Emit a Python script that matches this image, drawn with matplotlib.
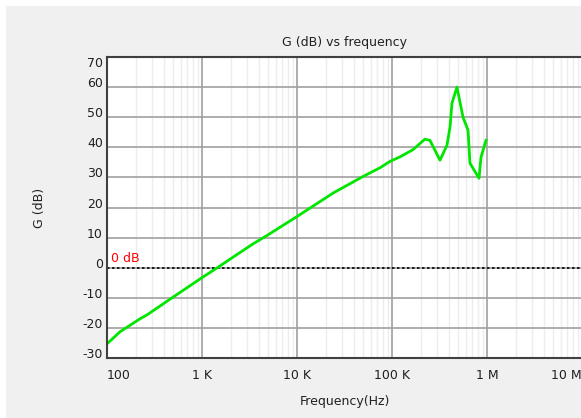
import matplotlib
matplotlib.use("Agg")
from matplotlib import pyplot as plt
from matplotlib.patches import Rectangle
from matplotlib.ticker import FixedLocator, NullFormatter

plt.rcParams["axes.unicode_minus"] = False

# gain curve
freq = [100, 137, 222, 263, 495, 1000, 1500, 2120, 3400, 4830, 10000,
        24000, 49500, 74800, 95000, 121000, 166000, 222000, 251000, 320000,
        379000, 408000, 428000, 483000, 559000, 631000, 662000, 824000,
        865000, 975000]
gain_db = [-25.3, -21.3, -17.0, -15.7, -9.8, -3.3, 0.3, 3.5, 7.8, 10.7, 17.0,
           24.8, 30.3, 33.2, 35.3, 36.8, 39.2, 42.7, 42.3, 35.7,
           40.7, 46.7, 54.7, 60.0, 50.0, 45.7, 34.7, 29.7,
           36.7, 42.3]

x_ticks = [100, 1e3, 1e4, 1e5, 1e6, 1e7]
x_labels = ["100", "1 K", "10 K", "100 K", "1 M", "10 M"]
y_ticks = [-30, -20, -10, 0, 10, 20, 30, 40, 50, 60, 70]

W, H = 581, 418
fig = plt.figure(figsize=(W / 100, H / 100), dpi=100)
fig.patch.set_facecolor("white")
fig.patches.append(Rectangle((6 / W, 0), 1, 1 - 6 / H, transform=fig.transFigure,
                             facecolor="#f0f0f0", edgecolor="none", zorder=-10))

ax = fig.add_axes([107 / W, 60 / H, 475 / W, 301 / H])
ax.set_facecolor("white")
ax.set_xscale("log")
ax.set_xlim(100, 1e7)
ax.set_ylim(-30, 70)

# grid
ax.xaxis.set_major_locator(FixedLocator(x_ticks))
minors = [m * 10 ** d for d in range(2, 7) for m in range(2, 10)]
ax.xaxis.set_minor_locator(FixedLocator(minors))
ax.xaxis.set_minor_formatter(NullFormatter())
ax.set_yticks(y_ticks)
ax.grid(which="major", color="#a0a0a0", linewidth=1.2)
ax.grid(which="minor", axis="x", color="#ededed", linewidth=1.0)
ax.set_axisbelow(True)

ax.set_xticks(x_ticks)
ax.set_xticklabels(x_labels)
ax.tick_params(which="both", length=0)
ax.tick_params(axis="x", pad=8, labelsize=9, labelcolor="#202020")
ax.tick_params(axis="y", pad=3, labelsize=9, labelcolor="#202020")
xl = ax.get_xticklabels()
xl[0].set_ha("left")
xl[-1].set_ha("right")
for lab in ax.get_yticklabels():
    lab.set_va("baseline")
ax.get_yticklabels()[-1].set_va("top")

for side in ["left", "bottom", "top"]:
    ax.spines[side].set_color("#404040")
    ax.spines[side].set_linewidth(1.5)
ax.spines["right"].set_visible(False)

# 0 dB reference
ax.axhline(0, color="black", linestyle=(0, (1.5, 1.5)), linewidth=1.2)
ax.text(110, 0.8, "0 dB", color="red", fontsize=9, va="bottom", ha="left")

ax.plot(freq, gain_db, color="#00e600", linewidth=2.0)

ax.set_title("G (dB) vs frequency", fontsize=9, pad=8, color="#202020")
ax.set_xlabel("Frequency(Hz)", fontsize=9, labelpad=9, color="#202020")
ax.set_ylabel("G (dB)", fontsize=9, labelpad=26, color="#202020")

fig.savefig("out.png", dpi=100)
